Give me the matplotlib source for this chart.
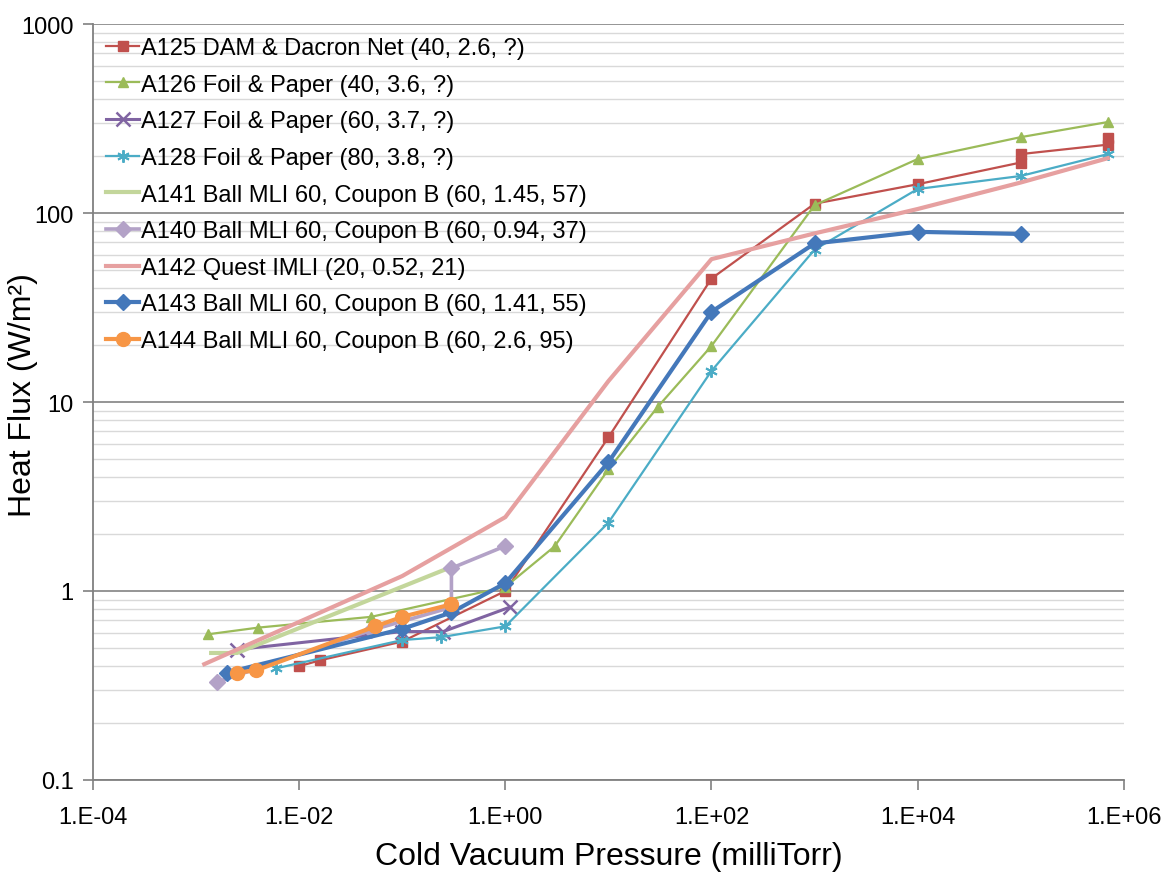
import math
import matplotlib.pyplot as plt
from matplotlib.ticker import FixedLocator, FuncFormatter, LogLocator, NullFormatter

plt.rcParams['font.family'] = ['Liberation Sans', 'DejaVu Sans']

# pressure (milliTorr) and heat flux (W/m2)
a125_p = [0.01, 0.016, 0.1, 1.0, 10, 100, 1000, 1e4, 1e5, 1e5, 7e5, 7e5]
a125_q = [0.40, 0.43, 0.54, 1.0, 6.5, 45, 112, 142, 185, 205, 230, 250]

a126_p = [0.0013, 0.004, 0.05, 1.0, 3, 10, 30, 100, 1000, 1e4, 1e5, 7e5]
a126_q = [0.59, 0.64, 0.73, 1.05, 1.72, 4.4, 9.4, 19.8, 110, 193, 252, 303]

a127_p = [0.0025, 0.1, 0.25, 1.1]
a127_q = [0.49, 0.61, 0.61, 0.82]

a128_p = [0.006, 0.1, 0.24, 1.0, 10, 100, 1000, 1e4, 1e5, 7e5]
a128_q = [0.39, 0.55, 0.57, 0.65, 2.3, 14.6, 64, 134, 157, 205]

a141_p = [0.0014, 0.0025, 0.3]
a141_q = [0.47, 0.47, 1.34]

a140_p = [0.0016, 0.05, 0.3, 0.3, 1.0]
a140_q = [0.33, 0.62, 0.82, 1.32, 1.73]

a142_p = [0.0012, 0.1, 1.0, 10, 100, 1000, 1e4, 1e5, 7e5]
a142_q = [0.41, 1.2, 2.46, 12.9, 57, 78, 105, 145, 195]

a143_p = [0.002, 0.1, 0.3, 1.0, 10, 100, 1000, 1e4, 1e5]
a143_q = [0.37, 0.63, 0.77, 1.1, 4.8, 30, 69, 79.5, 77.5]

a144_p = [0.0025, 0.0038, 0.055, 0.1, 0.3]
a144_q = [0.37, 0.38, 0.65, 0.73, 0.85]

fig = plt.figure(figsize=(11.7, 8.78), dpi=100)
ax = fig.add_axes([0.0795, 0.1105, 0.881, 0.861])

ax.plot(a125_p, a125_q, color='#C0504D', lw=1.6, marker='s', ms=7,
        label='A125 DAM & Dacron Net (40, 2.6, ?)')
ax.plot(a126_p, a126_q, color='#9BBB59', lw=1.6, marker='^', ms=7,
        label='A126 Foil & Paper (40, 3.6, ?)')
ax.plot(a127_p, a127_q, color='#8064A2', lw=2.2, marker='x', ms=10, mew=1.8,
        label='A127 Foil & Paper (60, 3.7, ?)')
ax.plot(a128_p, a128_q, color='#4BACC6', lw=1.6, marker=(6, 2, 0), ms=9, mew=1.4,
        label='A128 Foil & Paper (80, 3.8, ?)')
ax.plot(a141_p, a141_q, color='#C3D69B', lw=3,
        label='A141 Ball MLI 60, Coupon B (60, 1.45, 57)')
ax.plot(a140_p, a140_q, color='#B3A2C7', lw=2.6, marker='D', ms=8,
        label='A140 Ball MLI 60, Coupon B (60, 0.94, 37)')
ax.plot(a142_p, a142_q, color='#E6A0A0', lw=3,
        label='A142 Quest IMLI (20, 0.52, 21)')
ax.plot(a143_p, a143_q, color='#4478BA', lw=3, marker='D', ms=8,
        label='A143 Ball MLI 60, Coupon B (60, 1.41, 55)')
ax.plot(a144_p, a144_q, color='#F79646', lw=3, marker='o', ms=10,
        label='A144 Ball MLI 60, Coupon B (60, 2.6, 95)')

ax.set_xscale('log')
ax.set_yscale('log')
ax.set_xlim(1e-4, 1e6)
ax.set_ylim(0.1, 1000)

ax.xaxis.set_major_locator(FixedLocator([1e-4, 1e-2, 1, 1e2, 1e4, 1e6]))
ax.xaxis.set_minor_locator(FixedLocator([]))
ax.xaxis.set_major_formatter(FuncFormatter(lambda v, pos: '1.E%+03d' % round(math.log10(v))))
ax.yaxis.set_major_locator(FixedLocator([0.1, 1, 10, 100, 1000]))
ax.yaxis.set_major_formatter(FuncFormatter(lambda v, pos: '%g' % v))
ax.yaxis.set_minor_locator(LogLocator(base=10, subs=range(2, 10)))
ax.yaxis.set_minor_formatter(NullFormatter())

ax.grid(True, which='major', axis='y', color='#8C8C8C', lw=1.3)
ax.grid(True, which='minor', axis='y', color='#D9D9D9', lw=1.0)
ax.set_axisbelow(True)

for s in ['top', 'right']:
    ax.spines[s].set_visible(False)
for s in ['left', 'bottom']:
    ax.spines[s].set_color('#808080')
    ax.spines[s].set_linewidth(1.3)

ax.tick_params(axis='both', which='major', labelsize=17, color='#808080', length=7, width=1.2)
ax.tick_params(axis='y', which='minor', length=0)
ax.tick_params(axis='y', pad=7)
ax.tick_params(axis='x', pad=12)

ax.set_xlabel('Cold Vacuum Pressure (milliTorr)', fontsize=23, labelpad=9)
ax.set_ylabel('Heat Flux (W/m²)', fontsize=23)
ax.yaxis.set_label_coords(-0.053, 0.51)

ax.legend(loc='upper left', bbox_to_anchor=(0.0, 1.0), frameon=False, fontsize=17,
          handlelength=1.4, handletextpad=0.1, labelspacing=0.62, borderaxespad=0.25,
          borderpad=0.3)

fig.savefig('out.png', dpi=100)
